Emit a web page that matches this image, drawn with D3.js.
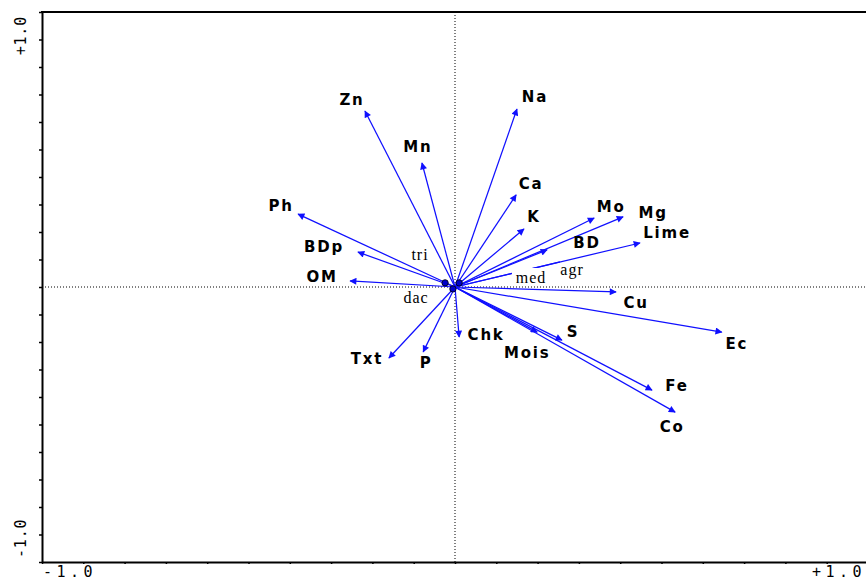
<!DOCTYPE html>
<html>
<head>
<meta charset="utf-8">
<script src="https://cdn.jsdelivr.net/npm/d3@7"></script>
<style>
  html, body { margin: 0; padding: 0; background: #fff; }
  svg { display: block; }
  .vec { stroke: #1010ff; stroke-width: 1.25; fill: none; }
  .lbl { font-family: "DejaVu Sans", sans-serif; font-weight: bold; font-size: 15px; letter-spacing: 1.8px; fill: #000; }
  .nom { font-family: "Liberation Serif", serif; font-size: 16px; letter-spacing: 1px; fill: #000; }
  .tick-lbl { font-family: "DejaVu Sans Mono", monospace; font-size: 15px; fill: #000; }
  .zero { stroke: #000; stroke-width: 1; stroke-dasharray: 1 2; }
</style>
</head>
<body>
<svg id="chart" width="866" height="580"></svg>
<script>
// environmental variables (biplot scores, axis 1 / axis 2)
const varNames = ["Zn", "Mn", "Na", "Ph", "BDp", "OM", "Ca", "K", "Mo", "Mg", "Lime", "BD",
  "Cu", "Ec", "S", "Mois", "Fe", "Co", "Chk", "P", "Txt"];
const axis1 = [-0.218, -0.080, 0.150, -0.380, -0.235, -0.254, 0.148, 0.167, 0.337, 0.407, 0.448, 0.223,
  0.390, 0.646, 0.259, 0.199, 0.477, 0.533, 0.010, -0.077, -0.160];
const axis2 = [0.640, 0.451, 0.647, 0.265, 0.127, 0.022, 0.335, 0.211, 0.251, 0.255, 0.160, 0.135,
  -0.018, -0.164, -0.193, -0.164, -0.375, -0.455, -0.182, -0.236, -0.258];

// nominal variables (centroids) and their labels
const nomNames = ["tri", "dac", "med", "agr"];
const nomAxis1 = [-0.024, -0.005, 0.010, 0.254];
const nomAxis2 = [0.015, -0.007, 0.015, 0.091];

const xTickLabels = ["-1.0", "+1.0"];
const yTickLabels = ["-1.0", "+1.0"];

// label nudges in pixels relative to the arrow tip (layout only)
const labelNudge = {
  Zn: [-13, -11], Mn: [-4, -16], Na: [18, -12], Ph: [-17, -9], BDp: [-34, -5], OM: [-28, -4],
  Ca: [15, -11], K: [10, -12], Mo: [17, -11], Mg: [30, -4], Lime: [27, -10], BD: [40, -7],
  Cu: [20, 11], Ec: [15, 11], S: [11, -8], Mois: [-10, 20], Fe: [25, -5], Co: [-3, 14],
  Chk: [27, -2], P: [3, 11], Txt: [-22, 1]
};
const nomLabelPos = { tri: [-35, -32], dac: [-39, 11], med: [76, -9], agr: [117, -17] };

const svg = d3.select("#chart");
const x = d3.scaleLinear().domain([-1, 1]).range([42, 868]);
const y = d3.scaleLinear().domain([-1, 1]).range([562, 12]);

svg.append("defs").append("marker")
  .attr("id", "head")
  .attr("viewBox", "0 0 10 10")
  .attr("refX", 9)
  .attr("refY", 5)
  .attr("markerWidth", 9)
  .attr("markerHeight", 7)
  .attr("markerUnits", "userSpaceOnUse")
  .attr("orient", "auto")
  .append("path")
  .attr("d", "M 0 0 L 10 5 L 0 10 z")
  .attr("fill", "#1010ff");

// zero lines
svg.append("line").attr("class", "zero")
  .attr("x1", x(-1)).attr("x2", x(1)).attr("y1", y(0)).attr("y2", y(0));
svg.append("line").attr("class", "zero")
  .attr("x1", x(0)).attr("x2", x(0)).attr("y1", y(-1)).attr("y2", y(1));

// axes with small ticks
const yAxis = svg.append("g")
  .attr("transform", `translate(${x(-1)},0)`)
  .call(d3.axisLeft(y).ticks(20).tickSize(3).tickFormat("").tickSizeOuter(0));
const xAxis = svg.append("g")
  .attr("transform", `translate(0,${y(-1)})`)
  .call(d3.axisBottom(x).ticks(20).tickSize(2).tickFormat("").tickSizeOuter(0));
[xAxis, yAxis].forEach((g) => {
  g.select(".domain").attr("stroke", "#000").attr("stroke-width", 2);
  g.selectAll(".tick line").attr("stroke", "#000").attr("stroke-width", 1.5);
});
svg.append("line")
  .attr("x1", x(-1) - 1).attr("x2", x(1)).attr("y1", y(1)).attr("y2", y(1))
  .attr("stroke", "#000").attr("stroke-width", 2);
svg.append("line")
  .attr("x1", x(1)).attr("x2", x(1)).attr("y1", y(1)).attr("y2", y(-1))
  .attr("stroke", "#000").attr("stroke-width", 2);

// tick labels
svg.append("text").attr("class", "tick-lbl").attr("letter-spacing", 4.5)
  .attr("x", x(-1) + 1).attr("y", 577).text(xTickLabels[0]);
svg.append("text").attr("class", "tick-lbl").attr("letter-spacing", 4.5)
  .attr("text-anchor", "end")
  .attr("x", 866).attr("y", 577).text(xTickLabels[1]);
svg.append("text").attr("class", "tick-lbl").attr("letter-spacing", 0.8)
  .attr("transform", `translate(26,558) rotate(-90)`).text(yTickLabels[0]);
svg.append("text").attr("class", "tick-lbl").attr("letter-spacing", 0.8)
  .attr("text-anchor", "end")
  .attr("transform", `translate(26,${y(1) + 4}) rotate(-90)`).text(yTickLabels[1]);

const vars = varNames.map((name, i) => ({ name, a1: axis1[i], a2: axis2[i] }));
const noms = nomNames.map((name, i) => ({ name, a1: nomAxis1[i], a2: nomAxis2[i] }));

// agr line (centroid direction, no head)
svg.append("g").selectAll("line")
  .data(noms.filter((d) => d.name === "agr"))
  .join("line")
  .attr("class", "vec")
  .attr("x1", x(0)).attr("y1", y(0))
  .attr("x2", (d) => x(d.a1)).attr("y2", (d) => y(d.a2));

// arrows
svg.append("g").selectAll("line")
  .data(vars)
  .join("line")
  .attr("class", "vec")
  .attr("x1", x(0)).attr("y1", y(0))
  .attr("x2", (d) => x(d.a1)).attr("y2", (d) => y(d.a2))
  .attr("marker-end", "url(#head)");

// centroid markers near origin
svg.append("g").selectAll("circle")
  .data(noms.filter((d) => d.name !== "agr"))
  .join("circle")
  .attr("cx", (d) => x(d.a1)).attr("cy", (d) => y(d.a2))
  .attr("r", 3.2)
  .attr("fill", "#0000c8").attr("stroke", "#000").attr("stroke-width", 0.8);

// nominal labels with white backing (they cut the lines underneath)
const nomG = svg.append("g").selectAll("g")
  .data(noms)
  .join("g")
  .attr("transform", (d) => `translate(${x(0) + nomLabelPos[d.name][0]},${y(0) + nomLabelPos[d.name][1]})`);
nomG.append("rect")
  .attr("x", (d) => (d.name === "med" ? -19 : -1)).attr("y", -10)
  .attr("width", (d) => (d.name === "med" ? 38 : 0)).attr("height", 13)
  .attr("fill", "#fff");
nomG.append("text").attr("class", "nom")
  .attr("text-anchor", "middle")
  .attr("dy", "0.32em")
  .text((d) => d.name);

// variable labels
svg.append("g").selectAll("text")
  .data(vars)
  .join("text")
  .attr("class", "lbl")
  .attr("text-anchor", "middle")
  .attr("dy", "0.36em")
  .attr("x", (d) => x(d.a1) + labelNudge[d.name][0])
  .attr("y", (d) => y(d.a2) + labelNudge[d.name][1])
  .text((d) => d.name);
</script>
</body>
</html>
